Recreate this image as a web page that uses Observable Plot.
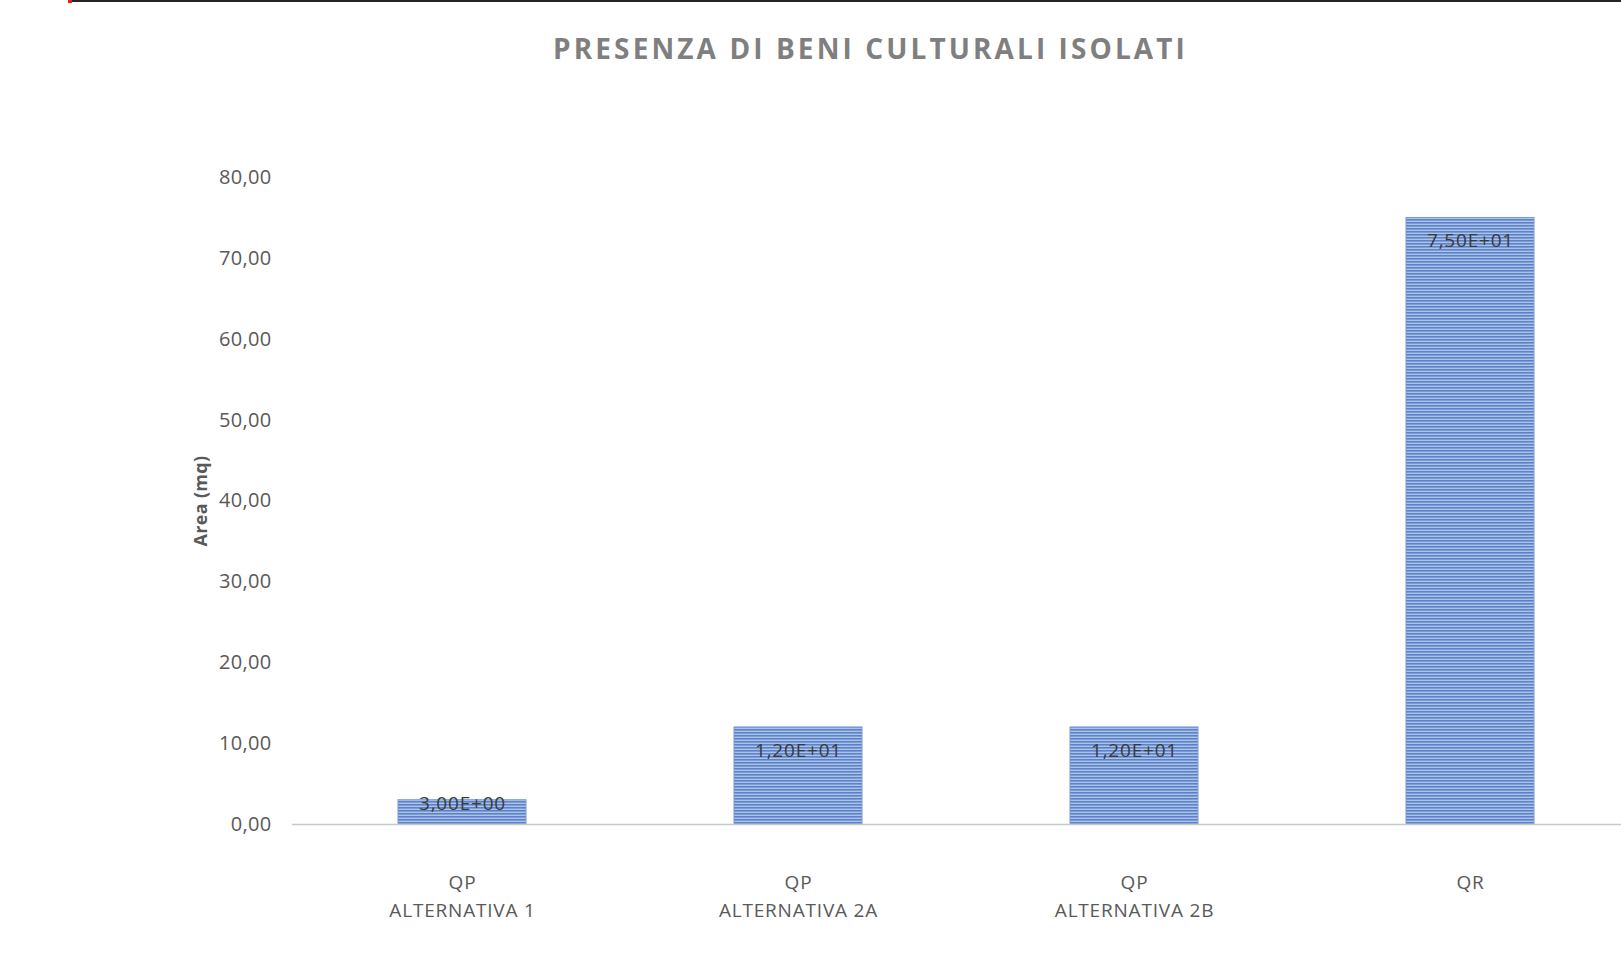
<!DOCTYPE html>
<html>
<head>
<meta charset="utf-8">
<script src="https://cdn.jsdelivr.net/npm/d3@7"></script>
<script src="https://cdn.jsdelivr.net/npm/@observablehq/plot@0.6"></script>
<style>
  html, body { margin: 0; padding: 0; background: #fff; overflow: hidden; }
  #topline { position: absolute; top: 0; left: 70px; right: 0; height: 2px; background: #262626; }
  #topline::before { content: ""; position: absolute; left: -2px; top: 0; width: 4px; height: 3px; background: #e02020; }
  #title { height: 96px; box-sizing: border-box; padding-left: 120px; display: flex; align-items: center; justify-content: center;
           font-family: "Open Sans", sans-serif; font-weight: 700; font-size: 28px; letter-spacing: 3.1px; color: #7f7f7f; }
  #chart svg [aria-label="y-axis label"] text { font-weight: 700; font-size: 18px; letter-spacing: 0.3px; }
  #chart svg [aria-label="y-axis tick label"] text { letter-spacing: 0.3px; }
  #chart svg .xlab text, #chart svg .blab text { letter-spacing: 0.8px; }
</style>
</head>
<body>
<div id="topline"></div>
<div id="title">PRESENZA DI BENI CULTURALI ISOLATI</div>
<div id="chart"></div>
<script>
const categories = ["QP\nALTERNATIVA 1", "QP\nALTERNATIVA 2A", "QP\nALTERNATIVA 2B", "QR"];
const values = [3.0, 12.0, 12.0, 75.0];
const valueLabels = ["3,00E+00", "1,20E+01", "1,20E+01", "7,50E+01"];
const yTicks = [0, 10, 20, 30, 40, 50, 60, 70, 80];

const data = categories.map((c, i) => ({cat: c, value: values[i], label: valueLabels[i]}));
const fmt = d => d.toFixed(2).replace(".", ",");

const defs = () => {
  const g = d3.create("svg:defs");
  const p = g.append("pattern")
    .attr("id", "stripes")
    .attr("patternUnits", "userSpaceOnUse")
    .attr("width", 8).attr("height", 3);
  p.append("rect").attr("width", 8).attr("height", 3).attr("fill", "#adc3e8");
  p.append("rect").attr("width", 8).attr("height", 1.6).attr("fill", "#5b82c9");
  return g.node();
};

const chart = Plot.plot({
  width: 1621,
  height: 858,
  marginTop: 81,
  marginBottom: 130,
  marginLeft: 292,
  marginRight: 0,
  style: {fontFamily: "'Open Sans', sans-serif", background: "#fff", color: "#595959"},
  x: {domain: categories, range: [292.5, 1639.3], paddingInner: 0.62, paddingOuter: 0.31, axis: null},
  y: {domain: [0, 80], ticks: yTicks, tickFormat: fmt, label: "Area (mq)"},
  marks: [
    defs,
    Plot.axisY({ticks: yTicks, tickFormat: fmt, tickSize: 0, tickPadding: 21, fontSize: 20,
                label: "Area (mq)", labelAnchor: "center", labelOffset: 98, labelArrow: "none"}),
    Plot.barY(data, {x: "cat", y: "value", fill: "url(#stripes)", stroke: "#7898d3", strokeWidth: 1}),
    Plot.ruleY([0], {stroke: "#c8c8c8", strokeWidth: 1.5}),
    Plot.text(data.filter(d => d.value > 5), {x: "cat", y: "value", text: "label", dy: 23, fontSize: 19, fill: "#3a3a3a", className: "blab"}),
    Plot.text(data.filter(d => d.value <= 5), {x: "cat", y: "value", text: "label", dy: 4, fontSize: 19, fill: "#3a3a3a", className: "blab"}),
    Plot.text(data, {x: "cat", text: "cat", frameAnchor: "bottom", lineAnchor: "top", dy: 44, lineHeight: 1.5, fontSize: 19, fill: "#595959", className: "xlab"})
  ]
});
document.getElementById("chart").appendChild(chart);
</script>
</body>
</html>
